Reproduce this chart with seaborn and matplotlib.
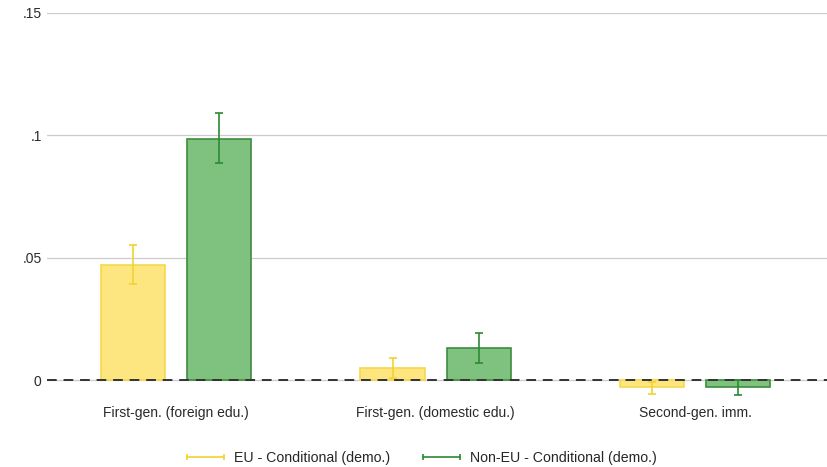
import matplotlib
matplotlib.use("Agg")
import matplotlib.pyplot as plt
from matplotlib.lines import Line2D
import numpy as np
import pandas as pd
import seaborn as sns

# Estimates with confidence bounds for each immigrant group
categories = ["First-gen. (foreign edu.)", "First-gen. (domestic edu.)", "Second-gen. imm."]
series = ["EU - Conditional (demo.)", "Non-EU - Conditional (demo.)"]
eu_coef = [0.0469, 0.0049, -0.0027]
eu_lo = [0.0392, 0.0007, -0.0057]
eu_hi = [0.0551, 0.0091, -0.0007]
noneu_coef = [0.0984, 0.0129, -0.0027]
noneu_lo = [0.0886, 0.0071, -0.0061]
noneu_hi = [0.1090, 0.0193, 0.0000]
ytick_vals = [0, 0.05, 0.1, 0.15]
ytick_labels = ["0", ".05", ".1", ".15"]

fill_colors = ["#FDE580", "#7FC17F"]
edge_colors = ["#F6D84C", "#3D8C3D"]
err_colors = ["#F2D232", "#2B8A34"]

df = pd.DataFrame({
    "group": categories * 2,
    "series": [series[0]] * 3 + [series[1]] * 3,
    "coef": eu_coef + noneu_coef,
    "lo": eu_lo + noneu_lo,
    "hi": eu_hi + noneu_hi,
})

sns.set_style("white")
plt.rcParams["font.family"] = ["Liberation Sans", "DejaVu Sans"]

fig = plt.figure(figsize=(8.28, 4.67), dpi=100)
ax = fig.add_axes([0.057, 0.1495, 0.943, 0.8227])

sns.barplot(data=df, x="group", y="coef", hue="series", order=categories,
            hue_order=series, palette=fill_colors, saturation=1, width=0.664,
            gap=0.256, errorbar=None, legend=False, ax=ax, zorder=2)

# Colour edges per series and add the confidence intervals at each bar centre
bar_containers = list(ax.containers)
for s_idx, container in enumerate(bar_containers):
    sub = df[df["series"] == series[s_idx]].set_index("group").loc[categories]
    for bar, (_, row) in zip(container, sub.iterrows()):
        bar.set_edgecolor(edge_colors[s_idx])
        bar.set_linewidth(1.2)
        xc = bar.get_x() + bar.get_width() / 2
        ax.errorbar([xc], [row["coef"]],
                    yerr=[[row["coef"] - row["lo"]], [row["hi"] - row["coef"]]],
                    fmt="none", ecolor=err_colors[s_idx], elinewidth=1.2,
                    capsize=3, capthick=1.2, zorder=3)

ax.axhline(0, color="#333333", linestyle=(0, (5, 3.5)), linewidth=1.4, zorder=4)

ax.set_xlim(-0.497, 2.5125)
ax.set_ylim(-0.007, 0.15)
ax.set_yticks(ytick_vals)
ax.set_yticklabels(ytick_labels)
ax.yaxis.grid(True, color="#cccccc", linewidth=0.9, zorder=0)
ax.set_axisbelow(True)
ax.tick_params(axis="both", length=0, labelsize=10, colors="#2a2a2a")
ax.tick_params(axis="x", pad=6.5)
ax.tick_params(axis="y", pad=4)
ax.set_xlabel("")
ax.set_ylabel("")
for sp in ax.spines.values():
    sp.set_visible(False)

handles = [Line2D([], [], color=err_colors[i], linewidth=1.2, marker="|",
                  markersize=5, markeredgewidth=1.2) for i in range(2)]
fig.legend(handles, series, loc="lower center", bbox_to_anchor=(0.507, -0.022),
           ncol=2, frameon=False, numpoints=2, fontsize=10.2, handlelength=3.2,
           columnspacing=2.0, handletextpad=0.45)

fig.savefig("out.png", dpi=100)
